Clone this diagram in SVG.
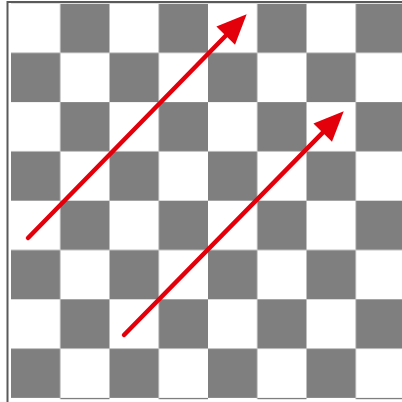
<svg xmlns="http://www.w3.org/2000/svg" width="402" height="402" viewBox="0 0 402 402">
  <style>
    .frame { stroke: #5a5a5a; stroke-width: 2; fill: none; }
    .arrow { stroke: #e4000a; stroke-width: 4.5; stroke-linecap: round; fill: none; }
  </style>
  <defs>
    <pattern id="checker" patternUnits="userSpaceOnUse" x="11" y="3.5" width="98.5" height="98.6">
      <rect x="0" y="0" width="98.5" height="98.6" fill="#ffffff"/>
      <rect x="49.25" y="0" width="49.25" height="49.3" fill="#7f7f7f"/>
      <rect x="0" y="49.3" width="49.25" height="49.3" fill="#7f7f7f"/>
    </pattern>
    <marker id="head" markerUnits="userSpaceOnUse" markerWidth="32" markerHeight="28" viewBox="0 -14 31 28" refX="0" refY="0" orient="auto" overflow="visible">
      <path d="M0,-13 L30,0 L0,13 Z" fill="#e4000a"/>
    </marker>
  </defs>
  <rect x="0" y="0" width="402" height="402" fill="#ffffff"/>
  <g id="board">
    <rect x="11" y="3.5" width="391" height="395.7" fill="url(#checker)"/>
    <path class="frame" d="M7.5,402 V2 H402"/>
  </g>
  <g id="connectors">
    <line class="arrow" x1="28" y1="238" x2="225.7" y2="35.7" marker-end="url(#head)"/>
    <line class="arrow" x1="124" y1="335" x2="322.7" y2="132.7" marker-end="url(#head)"/>
  </g>
</svg>
